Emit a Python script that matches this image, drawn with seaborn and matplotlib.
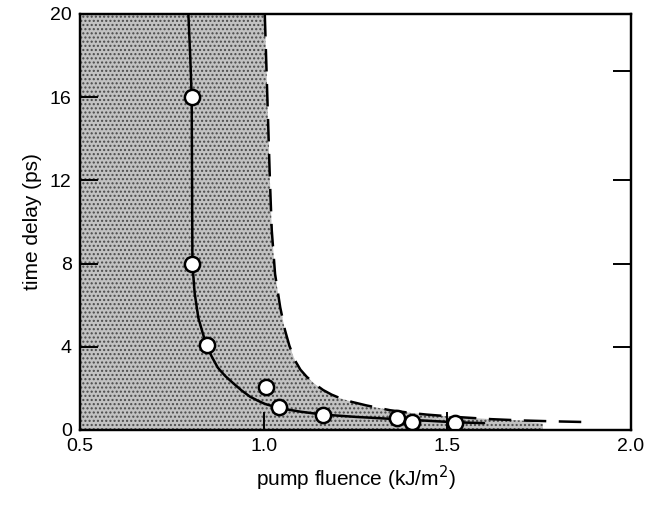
import numpy as np
import pandas as pd
import matplotlib
matplotlib.use('Agg')
import matplotlib.pyplot as plt
import seaborn as sns

# measured points
fluence = [0.804, 0.806, 0.845, 1.006, 1.043, 1.162, 1.362, 1.405, 1.521]
delay = [16.0, 8.0, 4.09, 2.05, 1.09, 0.72, 0.56, 0.40, 0.32]

# solid fit curve
fit_x = [0.795, 0.800, 0.804, 0.806, 0.812, 0.822, 0.835, 0.845, 0.858, 0.875,
         0.895, 0.917, 0.940, 0.963, 0.985, 1.004, 1.043, 1.10, 1.162, 1.25,
         1.362, 1.45, 1.521, 1.60]
fit_y = [20.0, 18.0, 16.0, 8.0, 6.6, 5.4, 4.6, 4.09, 3.55, 3.0,
         2.6, 2.25, 1.9, 1.6, 1.4, 1.25, 1.05, 0.88, 0.74, 0.63,
         0.52, 0.44, 0.37, 0.33]

# dashed boundary curve
bound_x = [1.003, 1.010, 1.017, 1.022, 1.031, 1.045, 1.058, 1.070, 1.085, 1.100,
           1.117, 1.140, 1.162, 1.185, 1.208, 1.24, 1.28, 1.344, 1.40, 1.444,
           1.53, 1.62, 1.70, 1.78, 1.88]
bound_y = [20.0, 16.0, 12.0, 9.6, 7.5, 5.9, 4.8, 4.05, 3.35, 2.9,
           2.56, 2.2, 1.92, 1.7, 1.53, 1.35, 1.18, 0.95, 0.82, 0.74,
           0.62, 0.52, 0.46, 0.42, 0.38]

# where the stippled area stops
shade_end = 1.76

sns.set_style('ticks')
plt.rcParams['font.family'] = ['Liberation Sans', 'DejaVu Sans']
plt.rcParams['hatch.color'] = '#4a4a4a'
plt.rcParams['hatch.linewidth'] = 1.0

fig = plt.figure(figsize=(6.51, 5.07), dpi=100)
ax = fig.add_axes([0.1229, 0.1519, 0.9693 - 0.1229, 0.9724 - 0.1519])

# stippled region left of / below the dashed curve
sx = [0.5] + [x for x in bound_x if x <= shade_end] + [shade_end]
sy = [20.0] + [y for x, y in zip(bound_x, bound_y) if x <= shade_end] + [0.3]
ax.fill_between(sx, 0, sy, facecolor='#c2c2c2', hatch='....',
                edgecolor='#4a4a4a', linewidth=0, zorder=0)

df_fit = pd.DataFrame({'x': fit_x, 'y': fit_y})
df_bound = pd.DataFrame({'x': bound_x, 'y': bound_y})
df_pts = pd.DataFrame({'x': fluence, 'y': delay})

sns.lineplot(data=df_bound, x='x', y='y', sort=False, ax=ax, color='black',
             linewidth=1.8, zorder=2)
ax.lines[-1].set_dashes([9, 5])
sns.lineplot(data=df_fit, x='x', y='y', sort=False, ax=ax, color='black',
             linewidth=1.8, zorder=3)
sns.scatterplot(data=df_pts, x='x', y='y', ax=ax, s=120, color='white',
                edgecolor='black', linewidth=1.8, zorder=4)

ax.set_xlim(0.5, 2.0)
ax.set_ylim(0, 20)
ax.set_xticks([0.5, 1.0, 1.5, 2.0])
ax.set_xticklabels(['0.5', '1.0', '1.5', '2.0'])
ax.set_yticks([0, 4, 8, 12, 16, 20])
ax.tick_params(direction='in', length=13, width=1.4, labelsize=14, pad=6,
               colors='black')
ax.set_xlabel('pump fluence (kJ/m$^2$)', fontsize=15, labelpad=6, color='black')
ax.set_ylabel('time delay (ps)', fontsize=15, labelpad=6, color='black')

# right-hand ticks as drawn in the original
ax2 = ax.twinx()
ax2.set_ylim(0, 20)
ax2.set_yticks([17.25, 12, 8, 4])
ax2.set_yticklabels([])
ax2.tick_params(direction='in', length=13, width=1.4, colors='black')
for a in (ax, ax2):
    for sp in a.spines.values():
        sp.set_visible(True)
        sp.set_linewidth(1.6)
        sp.set_color('black')

fig.savefig('out.png', dpi=100)
